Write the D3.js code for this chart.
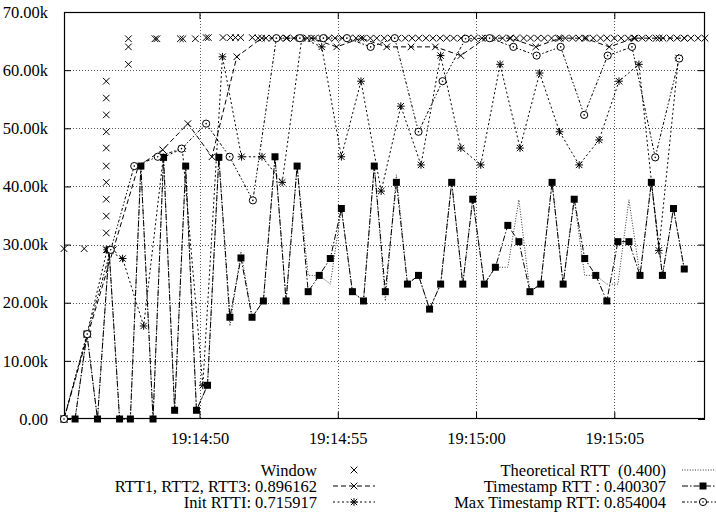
<!DOCTYPE html>
<html>
<head>
<meta charset="utf-8">
<script src="https://cdnjs.cloudflare.com/ajax/libs/d3/7.8.5/d3.min.js"></script>
<style>
  html, body { margin: 0; padding: 0; background: #fff; }
  svg { display: block; }
  text { font-family: "Liberation Serif", "Times New Roman", serif; font-size: 16.5px; fill: #000; white-space: pre; }
</style>
</head>
<body>
<div id="chart"></div>
<script>
// times are seconds after 19:14:45, values are in thousands (k)

var windowTimes = [0.10, 0.83,
  1.63, 1.63, 1.63, 1.63, 1.63, 1.63, 1.63, 1.63, 1.63, 1.63, 1.63,
  2.43, 2.43, 2.43,
  3.39, 3.46, 4.31, 4.40, 4.85, 5.24, 5.32, 5.85, 6.12, 6.30, 6.49, 6.91,
  7.12, 7.40, 7.63, 7.90, 8.14, 8.41, 8.65, 8.90, 9.16, 9.41, 9.67, 9.90,
  10.16, 10.42, 10.66, 10.92, 11.18, 11.41, 11.68, 11.93, 12.17, 12.44, 12.69, 12.93,
  13.19, 13.44, 13.70, 13.94, 14.19, 14.45, 14.70, 14.94, 15.21, 15.45, 15.71, 15.96,
  16.22, 16.46, 16.72, 16.97, 17.23, 17.47, 17.73, 17.98, 18.23, 18.49, 18.73, 18.99,
  19.24, 19.50, 19.74, 20.00, 20.25, 20.51, 20.75, 21.01, 21.26, 21.52, 21.76, 22.02,
  22.27, 22.53, 22.77, 23.03, 23.28];
var windowValues = [29.3, 29.3,
  29.1, 32.0, 34.9, 37.8, 40.7, 43.5, 46.6, 49.4, 52.3, 55.2, 58.1,
  61.0, 64.0, 65.4,
  65.4, 65.4, 65.4, 65.4, 65.4, 65.6, 65.6, 65.6, 65.6, 65.6, 65.6, 65.6,
  65.5, 65.5, 65.5, 65.5, 65.5, 65.5, 65.5, 65.5, 65.5, 65.5, 65.5, 65.5,
  65.5, 65.5, 65.5, 65.5, 65.5, 65.5, 65.5, 65.5, 65.5, 65.5, 65.5, 65.5,
  65.5, 65.5, 65.5, 65.5, 65.5, 65.5, 65.5, 65.5, 65.5, 65.5, 65.5, 65.5,
  65.5, 65.5, 65.5, 65.5, 65.5, 65.5, 65.5, 65.5, 65.5, 65.5, 65.5, 65.5,
  65.5, 65.5, 65.5, 65.5, 65.5, 65.5, 65.5, 65.5, 65.5, 65.5, 65.5, 65.5,
  65.5, 65.5, 65.5, 65.5, 65.5];

var rttTimes = [0.10, 0.97, 1.88, 2.79, 3.67, 4.58, 5.45, 6.35, 7.25, 8.16, 9.05, 9.96,
  10.84, 11.77, 12.65, 13.53, 14.45, 15.34, 16.25, 17.16, 18.04, 18.93, 19.82, 20.71,
  21.62, 22.53];
var rttValues = [0, 14.6, 29.1, 43.5, 46.3, 50.8, 45.1, 62.3, 65.5, 65.5, 65.5, 64.0,
  65.5, 64.0, 64.0, 64.0, 62.5, 65.5, 65.5, 64.0, 65.5, 65.5, 64.0, 65.5,
  65.5, 65.5];

var initTimes = [0.10, 0.93, 1.66, 2.22, 2.98, 3.69, 4.38, 5.12, 5.83, 6.52, 7.26, 7.99,
  8.70, 9.42, 10.13, 10.84, 11.57, 12.28, 13.01, 13.72, 14.45, 15.17, 15.87, 16.59,
  17.30, 18.02, 18.73, 19.45, 20.17, 20.89, 21.61, 22.32];
var initValues = [0, 14.6, 29.1, 27.6, 16.0, 45.0, 46.5, 5.8, 62.3, 45.1, 45.1, 40.7,
  65.5, 64.0, 45.1, 58.1, 39.2, 53.8, 43.7, 62.5, 46.6, 43.7, 61.0, 46.6,
  59.5, 49.4, 43.7, 48.0, 58.1, 61.0, 29.0, 62.1];

var tsTimes = [0.10, 0.50, 0.93, 1.31, 1.73, 2.11, 2.50, 2.88, 3.32, 3.70,
  4.10, 4.50, 4.89, 5.29, 5.70, 6.10, 6.50, 6.90, 7.31, 7.73,
  8.13, 8.53, 8.93, 9.33, 9.73, 10.13, 10.53, 10.93, 11.32, 11.72,
  12.12, 12.52, 12.92, 13.32, 13.72, 14.12, 14.52, 14.88, 15.30, 15.70,
  16.15, 16.55, 16.95, 17.34, 17.75, 18.15, 18.55, 18.93, 19.33, 19.73,
  20.13, 20.53, 20.93, 21.34, 21.74, 22.14, 22.53];
var tsValues = [0, 0, 14.6, 0, 29.1, 0, 0, 43.5, 0, 45.0,
  1.5, 43.5, 1.5, 5.8, 45.0, 17.5, 27.7, 17.5, 20.3, 45.1,
  20.3, 43.5, 21.9, 24.7, 27.6, 36.2, 21.9, 20.3, 43.5, 21.9,
  40.7, 23.2, 24.7, 18.9, 23.2, 40.7, 23.2, 37.8, 23.2, 26.1,
  33.3, 30.5, 21.9, 23.2, 40.7, 23.2, 37.8, 27.6, 24.7, 20.3,
  30.5, 30.5, 24.7, 40.7, 24.7, 36.2, 25.8];
var theoValues = [0, 0, 14.6, 0, 29.1, 0, 0, 43.5, 0, 45.0,
  1.5, 43.5, 1.5, 5.8, 45.0, 16.0, 28.8, 17.5, 20.3, 45.1,
  20.3, 43.5, 24.7, 24.7, 23.2, 36.2, 21.9, 20.3, 43.5, 20.3,
  42.0, 23.2, 24.7, 18.9, 23.2, 40.7, 23.2, 37.8, 23.2, 26.1,
  26.1, 37.7, 21.9, 23.2, 40.7, 23.2, 37.8, 24.7, 24.7, 23.2,
  23.2, 37.7, 24.7, 40.7, 24.7, 36.2, 25.8];

var maxTimes = [0.10, 0.94, 1.79, 2.64, 3.49, 4.35, 5.24, 6.09, 6.93, 7.78, 8.63, 9.48,
  10.33, 11.19, 12.06, 12.92, 13.79, 14.62, 15.49, 16.35, 17.19, 18.06, 18.91, 19.76,
  20.64, 21.48, 22.35];
var maxValues = [0, 14.6, 29.1, 43.5, 45.1, 46.5, 50.8, 45.1, 37.6, 65.5, 65.5, 65.5,
  65.5, 64.0, 65.5, 49.4, 58.1, 65.4, 65.5, 64.0, 62.5, 64.0, 52.3, 62.5,
  64.0, 45.0, 62.0];

var yTicks = [0, 10, 20, 30, 40, 50, 60, 70];

var legendLeft = ["Window", "RTT1, RTT2, RTT3: 0.896162", "Init RTTI: 0.715917"];
var legendRight = ["Theoretical RTT  (0.400)", "Timestamp RTT : 0.400307", "Max Timestamp RTT: 0.854004"];

var width = 716, height = 519;
var mLeft = 64, mRight = 705, mTop = 12, mBottom = 419;

var base = new Date(2000, 0, 1, 19, 14, 45);
function toDate(s) { return new Date(base.getTime() + s * 1000); }

var allTimes = windowTimes.concat(rttTimes, initTimes, tsTimes, maxTimes);

var x = d3.scaleTime().domain(d3.extent(allTimes).map(toDate)).range([mLeft, mRight]);
var y = d3.scaleLinear().domain([0, 70]).range([mBottom, mTop]);

var svg = d3.select("#chart").append("svg")
  .attr("width", width).attr("height", height);
svg.append("rect").attr("width", width).attr("height", height).attr("fill", "#fff");

function pairs(ts, vs) {
  return ts.map(function(t, i) { return { t: toDate(t), v: vs[i] }; });
}

var xTicks = x.ticks(d3.timeSecond.every(5));

// grid
var grid = svg.append("g").attr("stroke", "#555").attr("stroke-width", 1)
  .attr("stroke-dasharray", "1,2").attr("fill", "none");
yTicks.slice(1, -1).forEach(function(v) {
  grid.append("line").attr("x1", mLeft).attr("x2", mRight)
    .attr("y1", Math.round(y(v)) + 0.5).attr("y2", Math.round(y(v)) + 0.5);
});
xTicks.forEach(function(d) {
  grid.append("line").attr("x1", Math.round(x(d)) + 0.5).attr("x2", Math.round(x(d)) + 0.5)
    .attr("y1", mTop).attr("y2", mBottom);
});

// axes
var yAxis = svg.append("g").attr("transform", "translate(" + mLeft + ",0)")
  .call(d3.axisLeft(y).tickValues(yTicks).tickSize(-7).tickPadding(16)
    .tickFormat(function(v) { return v === 0 ? "0.00" : v.toFixed(2) + "k"; }));
var yAxisR = svg.append("g").attr("transform", "translate(" + mRight + ",0)")
  .call(d3.axisRight(y).tickValues(yTicks).tickSize(-7).tickFormat(""));
var xAxis = svg.append("g").attr("transform", "translate(0," + mBottom + ")")
  .call(d3.axisBottom(x).tickValues(xTicks).tickSize(-7).tickPadding(13)
    .tickFormat(d3.timeFormat("%H:%M:%S")));
var xAxisT = svg.append("g").attr("transform", "translate(0," + mTop + ")")
  .call(d3.axisTop(x).tickValues(xTicks).tickSize(-7).tickFormat(""));
[yAxis, yAxisR, xAxis, xAxisT].forEach(function(a) {
  a.select(".domain").remove();
  a.selectAll("line").attr("stroke", "#000");
  a.selectAll("text").attr("font-family", null).attr("font-size", null);
});

svg.append("rect").attr("x", mLeft + 0.5).attr("y", mTop + 0.5)
  .attr("width", mRight - mLeft - 1).attr("height", mBottom - mTop - 1)
  .attr("fill", "none").attr("stroke", "#000").attr("stroke-width", 1.2);

// markers
function crossPath(s) { return "M" + -s + "," + -s + "L" + s + "," + s + "M" + -s + "," + s + "L" + s + "," + -s; }
function starPath(s) { return crossPath(s) + "M" + -s * 1.2 + ",0L" + s * 1.2 + ",0M0," + -s * 1.2 + "L0," + s * 1.2; }

function drawMarker(g, kind, px, py) {
  if (kind === "cross") {
    g.append("path").attr("d", crossPath(3.3)).attr("transform", "translate(" + px + "," + py + ")")
      .attr("stroke", "#000").attr("stroke-width", 1).attr("fill", "none");
  } else if (kind === "star") {
    g.append("path").attr("d", starPath(3.2)).attr("transform", "translate(" + px + "," + py + ")")
      .attr("stroke", "#000").attr("stroke-width", 1).attr("fill", "none");
  } else if (kind === "square") {
    g.append("rect").attr("x", px - 3.5).attr("y", py - 3.5).attr("width", 7).attr("height", 7)
      .attr("fill", "#000");
  } else if (kind === "circle") {
    g.append("circle").attr("cx", px).attr("cy", py).attr("r", 3.6)
      .attr("fill", "#fff").attr("stroke", "#000").attr("stroke-width", 1);
    g.append("circle").attr("cx", px).attr("cy", py).attr("r", 0.8).attr("fill", "#000");
  }
}

var line = d3.line().x(function(d) { return x(d.t); }).y(function(d) { return y(d.v); });

var series = [
  { data: pairs(windowTimes, windowValues), dash: null, marker: "cross", label: legendLeft[0], col: 0, row: 0 },
  { data: pairs(rttTimes, rttValues), dash: "5,3", marker: "cross", label: legendLeft[1], col: 0, row: 1 },
  { data: pairs(initTimes, initValues), dash: "2,2.5", marker: "star", label: legendLeft[2], col: 0, row: 2 },
  { data: pairs(tsTimes, theoValues), dash: "1,1.6", marker: null, label: legendRight[0], col: 1, row: 0, color: "#333" },
  { data: pairs(tsTimes, tsValues), dash: "6,2,1.5,2", marker: "square", label: legendRight[1], col: 1, row: 1 },
  { data: pairs(maxTimes, maxValues), dash: "3,2,1.5,2,1.5,2", marker: "circle", label: legendRight[2], col: 1, row: 2 }
];

var plot = svg.append("g");
series.forEach(function(s) {
  var g = plot.append("g");
  if (s.dash) {
    g.append("path").datum(s.data).attr("d", line)
      .attr("fill", "none").attr("stroke", s.color || "#000").attr("stroke-width", 1)
      .attr("stroke-dasharray", s.dash);
  }
  if (s.marker) {
    s.data.forEach(function(d) { drawMarker(g, s.marker, x(d.t), y(d.v)); });
  }
});

// legend
var legTextX = [317, 666], legRowY = [470, 486, 502];
var legend = svg.append("g");
series.forEach(function(s) {
  var tx = legTextX[s.col], ty = legRowY[s.row];
  legend.append("text").attr("x", tx).attr("y", ty).attr("dy", "0.35em")
    .attr("text-anchor", "end").text(s.label);
  var x0 = tx + 16, x1 = tx + 58, xm = (x0 + x1) / 2;
  if (s.dash) {
    legend.append("line").attr("x1", x0).attr("x2", x1).attr("y1", ty).attr("y2", ty)
      .attr("stroke", s.color || "#000").attr("stroke-width", 1).attr("stroke-dasharray", s.dash);
  }
  if (s.marker) drawMarker(legend, s.marker, xm, ty);
});
</script>
</body>
</html>
